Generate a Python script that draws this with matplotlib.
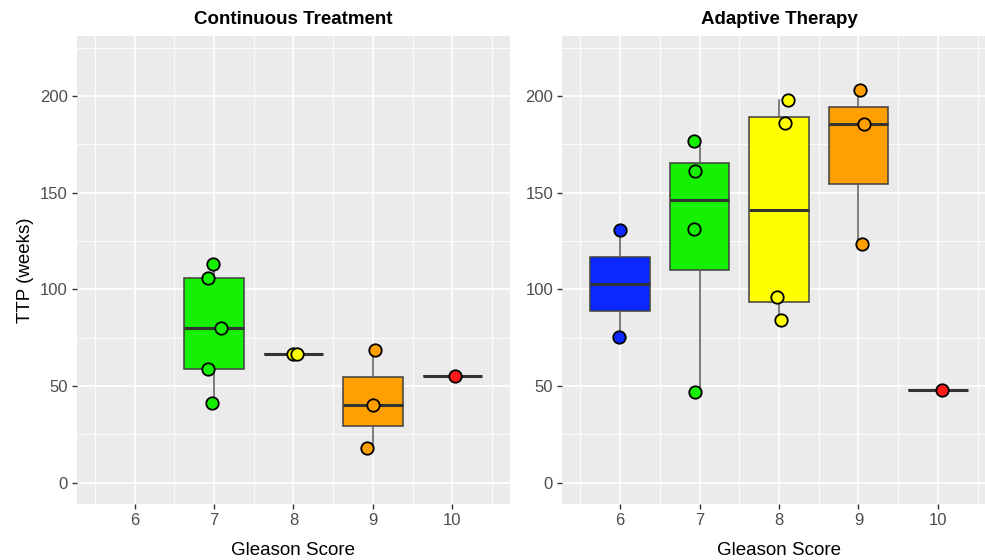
#
# TTP by Gleason score, continuous vs adaptive
#

import matplotlib
matplotlib.use('Agg')
import matplotlib.pyplot as plt
from matplotlib.ticker import MultipleLocator

plt.rcParams['font.family'] = ['Liberation Sans', 'DejaVu Sans']

# Data
scores = [6, 7, 8, 9, 10]
colors = {6: '#0A28FF', 7: '#14F000', 8: '#FFFF00', 9: '#FFA000', 10: '#FF1A1A'}

# Continuous treatment: TTP (weeks) per Gleason score
ct_ttp = {
    7: [113.3, 105.7, 80.2, 59.0, 41.2],
    8: [66.6, 66.6],
    9: [68.6, 40.4, 17.8],
    10: [55.4],
}
ct_jitter = {
    7: [-0.01, -0.07, 0.09, -0.07, -0.02],
    8: [-0.01, 0.05],
    9: [0.02, 0.0, -0.08],
    10: [0.03],
}

# Adaptive therapy
at_ttp = {
    6: [130.9, 75.1],
    7: [176.8, 161.2, 131.1, 46.8],
    8: [197.9, 186.2, 96.2, 84.2],
    9: [203.1, 185.6, 123.2],
    10: [48.1],
}
at_jitter = {
    6: [0.0, -0.01],
    7: [-0.07, -0.06, -0.07, -0.055],
    8: [0.11, 0.07, -0.02, 0.02],
    9: [0.02, 0.065, 0.05],
    10: [0.05],
}

panels = [('Continuous Treatment', ct_ttp, ct_jitter),
          ('Adaptive Therapy', at_ttp, at_jitter)]

fig = plt.figure(figsize=(9.85, 5.6), dpi=100)
positions = [[0.0777, 0.1, 0.4405, 0.8357], [0.5706, 0.1, 0.4405, 0.8357]]

for pos, (title, ttp, jit) in zip(positions, panels):
    ax = fig.add_axes(pos)
    ax.set_facecolor('#EBEBEB')
    for s in ax.spines.values():
        s.set_visible(False)

    groups = sorted(ttp.keys())
    bp = ax.boxplot([ttp[g] for g in groups], positions=groups, widths=0.75,
                    patch_artist=True, showcaps=False, showfliers=False,
                    whis=1.5, manage_ticks=False, zorder=3,
                    boxprops=dict(edgecolor='#404040', linewidth=1.1),
                    whiskerprops=dict(color='#5A5A5A', linewidth=1.1),
                    medianprops=dict(color='#333333', linewidth=2.2))
    for patch, g in zip(bp['boxes'], groups):
        patch.set_facecolor(colors[g])

    for g in groups:
        xs = [g + j for j in jit[g]]
        ax.scatter(xs, ttp[g], s=80, c=colors[g], edgecolors='black',
                   linewidths=1.3, zorder=5)

    ax.set_xlim(5.27, 10.73)
    ax.set_ylim(-11, 231)
    ax.xaxis.set_major_locator(MultipleLocator(1))
    ax.xaxis.set_minor_locator(MultipleLocator(0.5))
    ax.yaxis.set_major_locator(MultipleLocator(50))
    ax.yaxis.set_minor_locator(MultipleLocator(25))
    ax.set_xticks(scores)
    ax.set_xticklabels([str(s) for s in scores])
    ax.grid(True, which='major', color='white', linewidth=1.2, zorder=0)
    ax.grid(True, which='minor', color='white', linewidth=0.6, zorder=0)
    ax.set_axisbelow(True)
    ax.tick_params(which='major', length=3.5, width=1, color='#333333',
                   labelsize=12, labelcolor='#4D4D4D', pad=3)
    ax.tick_params(which='minor', length=0)
    ax.set_xlabel('Gleason Score', fontsize=13.5, labelpad=10)
    ax.set_title(title, fontsize=13.5, fontweight='bold', pad=9)
    if pos[0] < 0.5:
        ax.set_ylabel('TTP (weeks)', fontsize=13.5, labelpad=4)

plt.savefig('out.png', dpi=100)
